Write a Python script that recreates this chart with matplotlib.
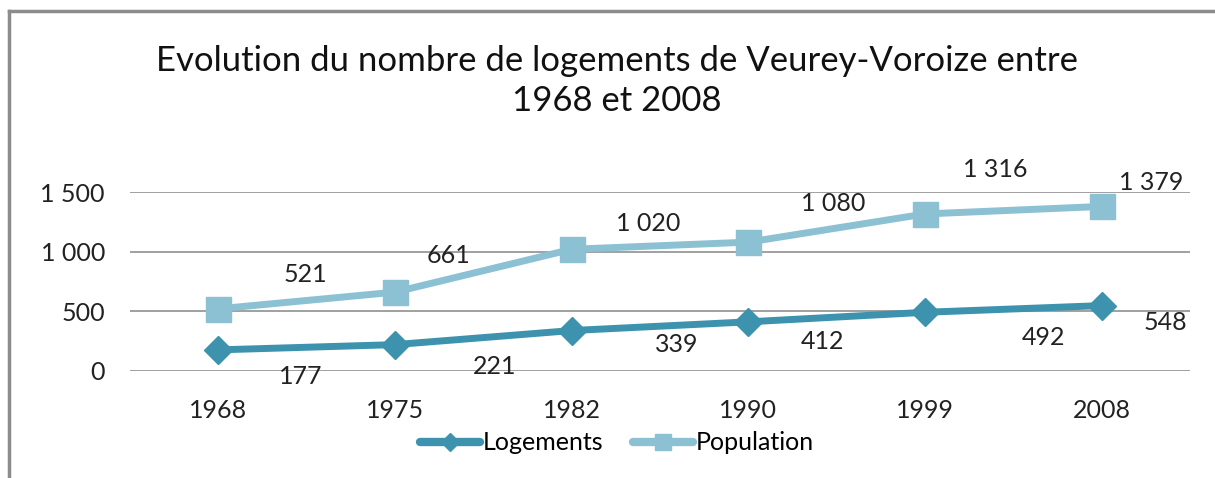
import matplotlib
matplotlib.use("Agg")
import matplotlib.pyplot as plt
from matplotlib.lines import Line2D
from matplotlib.ticker import FuncFormatter

years = ['1968', '1975', '1982', '1990', '1999', '2008']
logements = [177, 221, 339, 412, 492, 548]
population = [521, 661, 1020, 1080, 1316, 1379]

# label offsets in pixels, copied from the reference placement
log_offsets = [(82, -27), (100, -22), (105, -14), (74, -20), (118, -25), (64, -17)]
pop_offsets = [(87, 34), (54, 37), (77, 26), (85, 39), (70, 44), (50, 24)]

c_log = '#3D93AD'
c_pop = '#8CC1D4'

plt.rcParams['font.family'] = ['Lato', 'DejaVu Sans']

fig = plt.figure(figsize=(12.15, 4.78), dpi=100)
ax = fig.add_axes([130 / 1215, 1 - 371 / 478, 1060 / 1215, 179 / 478])

x = list(range(len(years)))
ax.plot(x, logements, color=c_log, lw=5, marker='D', ms=14, mec=c_log, zorder=3)
ax.plot(x, population, color=c_pop, lw=5, marker='s', ms=18, mec=c_pop, zorder=3)

fmt = lambda v: f"{v:,}".replace(',', ' ')
for i, v in enumerate(logements):
    ax.annotate(fmt(v), (i, v), xytext=log_offsets[i], textcoords='offset pixels',
                ha='center', va='center', fontsize=18, color='#222222')
for i, v in enumerate(population):
    ax.annotate(fmt(v), (i, v), xytext=pop_offsets[i], textcoords='offset pixels',
                ha='center', va='center', fontsize=18, color='#222222')

ax.set_xlim(-0.5, len(years) - 0.5)
ax.set_ylim(0, 1500)
ax.set_yticks([0, 500, 1000, 1500])
ax.yaxis.set_major_formatter(FuncFormatter(lambda v, p: fmt(int(v))))
ax.set_xticks(x)
ax.set_xticklabels(years)
ax.tick_params(length=0, labelsize=18, colors='#222222')
ax.tick_params(axis='x', pad=20)
ax.tick_params(axis='y', pad=18)
ax.grid(axis='y', color='#999999', lw=1.3)
ax.set_axisbelow(True)
for s in ax.spines.values():
    s.set_visible(False)

fig.text(0.508, 0.83, "Evolution du nombre de logements de Veurey-Voroize entre\n1968 et 2008",
         ha='center', va='center', fontsize=25, linespacing=1.3, color='#111111')

handles = [Line2D([], [], color=c_log, lw=6, marker='D', ms=9, solid_capstyle='round'),
           Line2D([], [], color=c_pop, lw=6, marker='s', ms=12, solid_capstyle='round')]
fig.legend(handles, ['Logements', 'Population'], loc='center', bbox_to_anchor=(0.508, 1 - 443 / 478),
           ncol=2, frameon=False, fontsize=18, handlelength=2.4, handletextpad=0.1,
           columnspacing=1.2)

# chart frame (top and left edges visible)
fig.add_artist(Line2D([9 / 1215, 9 / 1215], [0, 1 - 11 / 478], color='#8C8C8C', lw=2.5,
                      transform=fig.transFigure))
fig.add_artist(Line2D([9 / 1215, 1], [1 - 11 / 478, 1 - 11 / 478], color='#8C8C8C', lw=2.5,
                      transform=fig.transFigure))

fig.savefig('out.png', dpi=100, facecolor='white')
